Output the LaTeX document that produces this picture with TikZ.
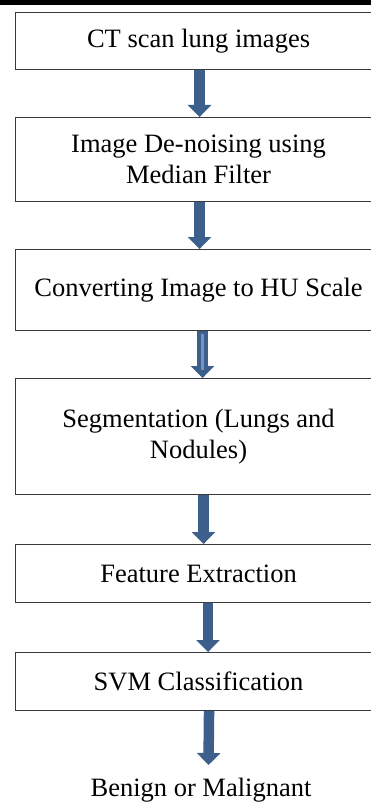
\documentclass[tikz,border=0pt]{standalone}
\usepackage{fontspec}
\setmainfont{Liberation Serif}
\usetikzlibrary{arrows.meta}
\definecolor{arrowblue}{HTML}{3C5F8C}
\definecolor{stripeblue}{HTML}{6F93C2}
\definecolor{boxline}{HTML}{3A3A3A}
\tikzset{
  stepbox/.style={draw=boxline, line width=1.1pt, minimum width=366pt, inner sep=0pt,
    align=center, font=\fontsize{26.5}{31}\selectfont, anchor=north west},
  flow/.style={draw=arrowblue, line width=10.5pt, -{Triangle[width=23pt,length=12pt]}},
}
\begin{document}
\begin{tikzpicture}[x=1pt,y=-1pt]
\clip (0,0) rectangle (371,805);
\fill[white] (0,0) rectangle (371,805);
\fill[black] (0,0) rectangle (371,5.5);
% boxes
\node[stepbox, minimum height=57.3pt] (b1) at (15,11.7) {CT scan lung images};
\node[stepbox, minimum height=84pt] (b2) at (15,117) {Image De-noising using\\Median Filter};
\node[stepbox, minimum height=81pt] (b3) at (15,249) {Converting Image to HU Scale};
\node[stepbox, minimum height=116pt] (b4) at (15,378) {Segmentation (Lungs and\\Nodules)};
\node[stepbox, minimum height=58pt] (b5) at (15,544) {Feature Extraction};
\node[stepbox, minimum height=58pt] (b6) at (15,652) {SVM Classification};
\node[anchor=north, inner sep=0pt, text height=31pt, font=\fontsize{26.5}{31}\selectfont] (out) at (201,765) {Benign or Malignant};
\coordinate (t6) at (208.5,765);
% arrows
\draw[flow] ([xshift=1pt]b1.south) -- ([xshift=1pt]b2.north);
\draw[flow] ([xshift=1pt]b2.south) -- ([xshift=1pt]b3.north);
\draw[flow] ([xshift=4pt]b3.south) -- ([xshift=4pt]b4.north);
\draw[stripeblue, line width=2.6pt] ([xshift=4pt,yshift=-3pt]b3.south) -- ([xshift=4pt,yshift=8pt]b4.north);
\draw[flow] ([xshift=5pt]b4.south) -- ([xshift=5pt]b5.north);
\draw[flow] ([xshift=9.5pt]b5.south) -- ([xshift=9.5pt]b6.north);
\draw[flow] ([xshift=10.5pt]b6.south) -- (t6);
\end{tikzpicture}
\end{document}
